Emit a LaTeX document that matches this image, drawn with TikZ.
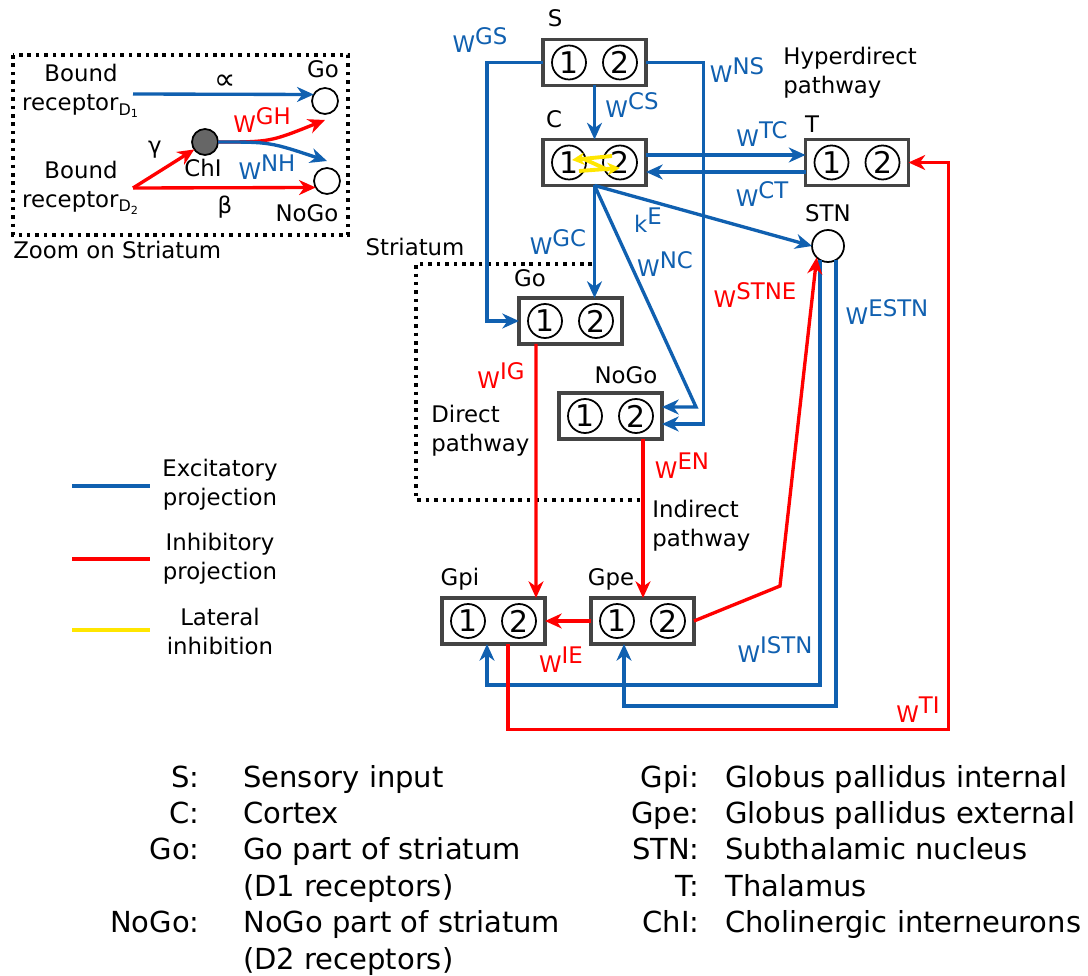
\documentclass[tikz,border=0pt]{standalone}
\usepackage{fontspec}
\setmainfont{DejaVu Sans}
\usetikzlibrary{arrows.meta,calc}

\definecolor{excblue}{RGB}{16,96,176}
\definecolor{inhred}{RGB}{255,0,0}
\definecolor{latyellow}{RGB}{255,230,0}
\definecolor{boxgray}{RGB}{68,68,68}
\definecolor{chigray}{RGB}{102,102,102}

% weight label: W with raised index
\newcommand{\wlab}[1]{W\raisebox{0.36em}{#1}}
% population box with its two units
\newcommand{\popnode}[3]{%
\node[popbox] (#1) at (#2,#3) {};
\node[unit] (#1-1) at (#2-25.5,#3) {1};
\node[unit] (#1-2) at (#2+25.5,#3) {2};
}

\begin{document}
\begin{tikzpicture}[x=0.02cm, y=-0.02cm, font=\labelfont,
  popbox/.style={draw=boxgray, line width=2.2pt, fill=white, minimum width=2.06cm, minimum height=0.92cm, inner sep=0pt, outer sep=0pt},
  unit/.style={circle, draw=black, line width=1pt, minimum size=0.68cm, inner sep=0pt, outer sep=0pt, font=\unitfont},
  cell/.style={circle, draw=black, line width=1pt, inner sep=0pt, outer sep=0pt},
  exc/.style={excblue, line width=1.9pt, -{Stealth[length=9.5pt, width=8.5pt, inset=3pt]}},
  inh/.style={inhred, line width=1.9pt, -{Stealth[length=9.5pt, width=8.5pt, inset=3pt]}},
  lat/.style={latyellow, line width=2.2pt, -{Stealth[length=7pt, width=7pt, inset=2pt]}},
  dots/.style={line width=2pt, dash pattern=on 2pt off 2.8pt},
  wl/.style={anchor=base, inner sep=0pt}]
\def\labelfont{\fontsize{13}{16.5}\selectfont}
\def\unitfont{\fontsize{17}{19}\selectfont}
\def\keyfont{\fontsize{16.5}{20.75}\selectfont}

\useasboundingbox[fill=white] (0,0) rectangle (1088,976);

\begin{scope} % INSET: ZOOM ON STRIATUM
\draw[dots] (13,55) rectangle (348,235);
\node[anchor=west, inner sep=0pt] (zoomtitle) at (13,250) {Zoom on Striatum};

\node[align=center, inner sep=0pt] (bd1) at (81,91) {Bound\\receptor\textsubscript{D\textsubscript{1}}};
\node[align=center, inner sep=0pt] (bd2) at (81,188) {Bound\\receptor\textsubscript{D\textsubscript{2}}};
\coordinate (d1) at (133,94);
\coordinate (d2) at (133,188);

\node[cell, minimum size=0.52cm] (ingo) at (325,101) {};
\node[cell, minimum size=0.52cm] (innogo) at (327,181) {};
\node[cell, minimum size=0.52cm, fill=chigray] (chi) at (205,142) {};
\node[wl] (ingolabel) at (323,78) {Go};
\node[wl] (innogolabel) at (307,222) {NoGo};
\node[wl] (chilabel) at (203,177) {ChI};

\draw[exc] (d1) -- (ingo.150);
\draw[inh] (d2) -- (chi.-145);
\draw[inh] (d2) -- (innogo.-150);
\draw[inh] (chi.east) .. controls (270,142) .. ($(ingo.south)+(0,6)$);
\draw[exc] (chi.east) .. controls (270,142) .. ($(innogo.north)+(0,-7)$);

\node[inner sep=0pt, font=\fontsize{17}{19}\selectfont] (lprop) at (225,82) {∝};
\node[inner sep=0pt] (lgamma) at (155,150) {γ};
\node[inner sep=0pt] (lbeta) at (225,207) {β};
\node[wl, inhred] (lGH) at (262,133) {\wlab{GH}};
\node[wl, excblue] (lNH) at (267,180) {\wlab{NH}};
\end{scope}

\begin{scope} % LINE LEGEND
\draw[excblue, line width=1.9pt] (72,486) -- (150,486);
\draw[inhred, line width=1.9pt] (72,559) -- (150,559);
\draw[latyellow, line width=1.9pt] (72,630) -- (150,630);
\node[align=center, inner sep=0pt] (legexc) at (220,485) {Excitatory\\projection};
\node[align=center, inner sep=0pt] (leginh) at (220,559) {Inhibitory\\projection};
\node[align=center, inner sep=0pt] (leglat) at (220,631) {Lateral\\inhibition};
\end{scope}

\begin{scope} % NETWORK
\draw[dots] (592,264) -- (416,264) -- (416,500) -- (643,500);
\node[wl] (striatum) at (415,256) {Striatum};

\popnode{S}{594.5}{62.5}
\popnode{C}{594.5}{162.5}
\popnode{T}{857}{162.5}
\popnode{Go}{570.5}{321}
\popnode{NoGo}{610.5}{416}
\popnode{Gpi}{493.5}{621}
\popnode{Gpe}{642.5}{621}
\node[cell, minimum size=0.64cm] (STN) at (828,246) {};

\node[wl] (Slabel) at (555,27) {S};
\node[wl] (Clabel) at (554,128) {C};
\node[wl] (Tlabel) at (812,133) {T};
\node[wl] (STNlabel) at (828,222) {STN};
\node[wl] (Golabel) at (530,287) {Go};
\node[wl] (NoGolabel) at (626,383) {NoGo};
\node[wl] (Gpilabel) at (460,585) {Gpi};
\node[wl] (Gpelabel) at (611,585) {Gpe};

\node[anchor=west, align=left, inner sep=0pt] (hyper) at (783,73) {Hyperdirect\\pathway};
\node[anchor=west, align=left, inner sep=0pt] (direct) at (431,431) {Direct\\pathway};
\node[anchor=west, align=left, inner sep=0pt] (indirect) at (652,526) {Indirect\\pathway};

% excitatory projections
\draw[exc] (S.south) -- (C.north);
\draw[exc] (S.west) -- ++(-56,0) |- (Go.west);
\draw[exc] (S.east) -- ++(57.5,0) |- ($(NoGo.east)+(0,8)$);
\draw[exc] ($(C.east)+(0,-7.5)$) -- ($(T.west)+(0,-7.5)$);
\draw[exc] ($(T.west)+(0,9.5)$) -- ($(C.east)+(0,9.5)$);
\draw[exc] (C.south) -- (C.south |- Go.north);
\draw[exc] (C.south) -- ($(NoGo.east)+(34,-9)$) -- ($(NoGo.east)+(0,-9)$);
\draw[exc] (C.south) -- (STN.west);
\draw[exc] (STN.-120) |- ($(Gpi.south)+(-6.5,41)$) -- ($(Gpi.south)+(-6.5,0)$);
\draw[exc] (STN.-60) |- ($(Gpe.south)+(-18.5,62)$) -- ($(Gpe.south)+(-18.5,0)$);

% inhibitory projections
\draw[inh] ($(Go.south)+(-34.5,0)$) -- ($(Gpi.north)+(42.5,0)$);
\draw[inh] ($(NoGo.south)+(32.5,0)$) -- ($(Gpe.north)+(0.5,0)$);
\draw[inh] (Gpe.west) -- (Gpi.east);
\draw[inh] (Gpe.east) -- ($(Gpe.east)+(86,-35)$) -- (STN.-135);
\draw[inh] ($(Gpi.south)+(14.5,0)$) -- ++(0,85.5) -| ($(T.east)+(40,0)$) -- (T.east);

% lateral inhibition inside C
\draw[lat] (612,156) -- (572,160);
\draw[lat] (579,171) -- (620,168);
\draw[latyellow, line width=2.2pt] (584,159) -- (608,170);

\node[wl, excblue] (lGS) at (480,53) {\wlab{GS}};
\node[wl, excblue] (lNS) at (737,83) {\wlab{NS}};
\node[wl, excblue] (lCS) at (632,118) {\wlab{CS}};
\node[wl, excblue] (lTC) at (762,147) {\wlab{TC}};
\node[wl, excblue] (lCT) at (762,207) {\wlab{CT}};
\node[wl, excblue] (lE) at (648,233) {k\raisebox{0.36em}{E}};
\node[wl, excblue] (lGC) at (558,255) {\wlab{GC}};
\node[wl, excblue] (lNC) at (665,277) {\wlab{NC}};
\node[wl, inhred] (lSTNE) at (755,308) {\wlab{STNE}};
\node[wl, excblue] (lESTN) at (887,325) {\wlab{ESTN}};
\node[wl, inhred] (lIG) at (501,388) {\wlab{IG}};
\node[wl, inhred] (lEN) at (682,478) {\wlab{EN}};
\node[wl, inhred] (lIE) at (561,672) {\wlab{IE}};
\node[wl, excblue] (lISTN) at (775,662) {\wlab{ISTN}};
\node[wl, inhred] (lTI) at (918,722) {\wlab{TI}};
\end{scope}

\begin{scope} % ABBREVIATIONS
\node[anchor=base east, font=\keyfont, inner sep=0pt] (keysL) at (200,787)
  {\begin{tabular}[t]{@{}r@{}}S:\\C:\\Go:\\ \\NoGo:\end{tabular}};
\node[anchor=base west, font=\keyfont, inner sep=0pt] (namesL) at (243,787)
  {\begin{tabular}[t]{@{}l@{}}Sensory input\\Cortex\\Go part of striatum\\(D1 receptors)\\NoGo part of striatum\\(D2 receptors)\end{tabular}};
\node[anchor=base east, font=\keyfont, inner sep=0pt] (keysR) at (700,787)
  {\begin{tabular}[t]{@{}r@{}}Gpi:\\Gpe:\\STN:\\T:\\ChI:\end{tabular}};
\node[anchor=base west, font=\keyfont, inner sep=0pt] (namesR) at (725,787)
  {\begin{tabular}[t]{@{}l@{}}Globus pallidus internal\\Globus pallidus external\\Subthalamic nucleus\\Thalamus\\Cholinergic interneurons\end{tabular}};
\end{scope}
\end{tikzpicture}
\end{document}
